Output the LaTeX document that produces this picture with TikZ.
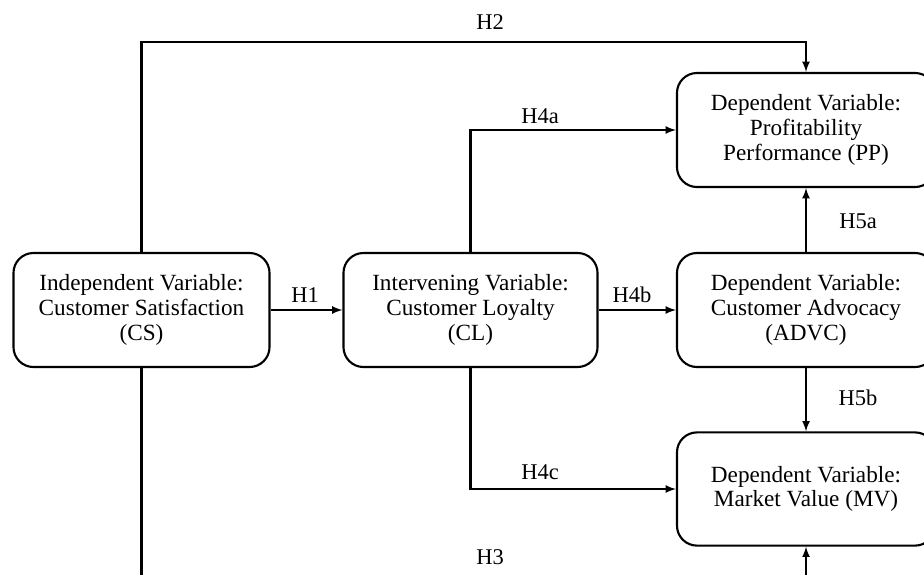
\documentclass[tikz,border=0pt]{standalone}
\usepackage{fontspec}
\setmainfont{Liberation Serif}
\usepackage{tikz}
\usetikzlibrary{shapes,arrows}

\tikzset{
  varbox/.style={rectangle,rounded corners=0.5cm,draw,line width=1.5pt,align=center,
    font=\fontsize{16.5}{17.5}\selectfont,minimum height=2.85cm,fill=white},
  hyp/.style={font=\fontsize{16}{17.5}\selectfont}
}

\begin{document}
\begin{tikzpicture}[x=0.025cm,y=-0.025cm,>=latex,line width=1.5pt]

\clip (0,0) rectangle (924,574);

\node [varbox,minimum width=6.4cm] (cs) at (141.5,310) {Independent Variable:\\Customer Satisfaction\\(CS)};
\node [varbox,minimum width=6.35cm] (cl) at (470.5,310) {Intervening Variable:\\Customer Loyalty\\(CL)};
\node [varbox,minimum width=6.45cm] (advc) at (806,310) {Dependent Variable:\\Customer Advocacy\\(ADVC)};
\node [varbox,minimum width=6.45cm] (pp) at (806,130) {Dependent Variable:\\Profitability\\Performance (PP)};
\node [varbox,minimum width=6.45cm,minimum height=2.83cm] (mv) at (806,489) {Dependent Variable:\\Market Value (MV)};

\coordinate (top) at (0,42);
\coordinate (bottom) at (0,600);

% direct paths
\draw[->] (cs) -- (cl);
\draw[->] (cl) -- (advc);
\draw[->] (advc) -- (pp);
\draw[->] (advc) -- (mv);

% bent paths
\draw[->] (cl.north) |- (pp.west);
\draw[->] (cl.south) |- (mv.west);
\draw[->] (cs.north) -- (cs.north |- top) -- (pp.north |- top) -- (pp.north);
\draw[->] (cs.south) -- (cs.south |- bottom) -- (mv.south |- bottom) -- (mv.south);

\node[hyp] (h1) at (305,295) {H1};
\node[hyp] (h2) at (490,22) {H2};
\node[hyp] (h3) at (490,557) {H3};
\node[hyp] (h4a) at (540,116) {H4a};
\node[hyp] (h4b) at (632,295) {H4b};
\node[hyp] (h4c) at (540,472) {H4c};
\node[hyp] (h5a) at (858,221) {H5a};
\node[hyp] (h5b) at (858,398) {H5b};

\end{tikzpicture}
\end{document}
